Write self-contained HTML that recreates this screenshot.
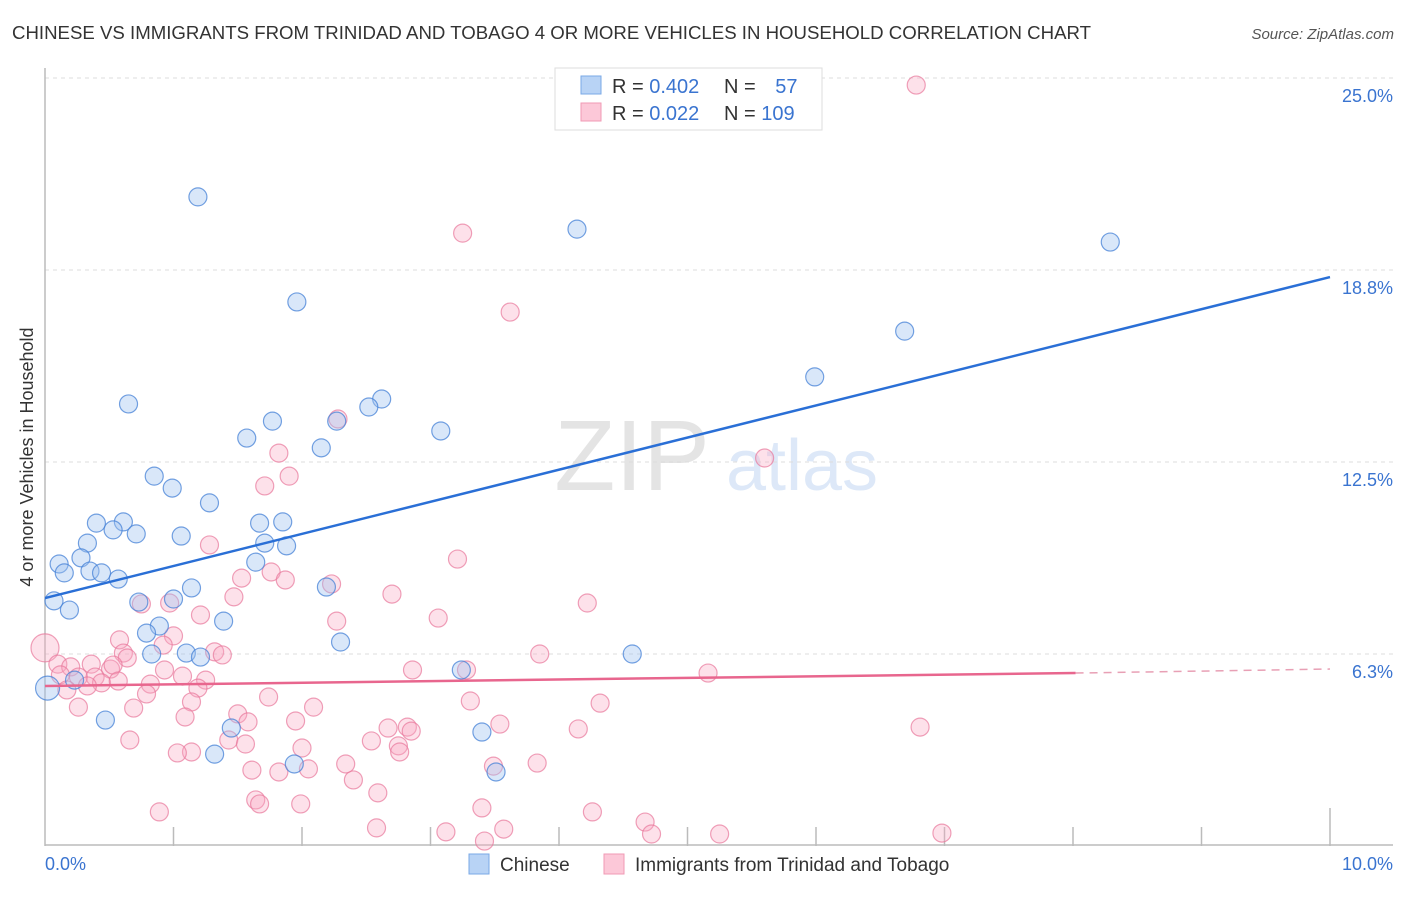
<!DOCTYPE html>
<html><head><meta charset="utf-8"><style>
body{margin:0;background:#fff;font-family:"Liberation Sans",sans-serif;}
svg text{font-family:"Liberation Sans",sans-serif;}
</style></head><body>
<svg id="chart" width="1406" height="892" viewBox="0 0 1406 892" xmlns="http://www.w3.org/2000/svg">
<text x="12" y="39" font-size="18" fill="#333" textLength="1079" lengthAdjust="spacingAndGlyphs">CHINESE VS IMMIGRANTS FROM TRINIDAD AND TOBAGO 4 OR MORE VEHICLES IN HOUSEHOLD CORRELATION CHART</text>
<text x="1394" y="39" font-size="15" fill="#555" text-anchor="end" font-style="italic">Source: ZipAtlas.com</text>
<g opacity="0.22">
<text x="632" y="490" font-size="100" font-family="Liberation Serif" fill="#888" text-anchor="middle">ZIP</text>
<text x="802" y="490" font-size="72" fill="#6a9ce0" text-anchor="middle">atlas</text>
</g>
<g id="grid"></g>
<g id="axes"></g>
<g id="marks"></g>
<g id="lines"></g>
<text transform="translate(33,457) rotate(-90)" font-size="18" fill="#333" text-anchor="middle">4 or more Vehicles in Household</text>
<g>
<rect x="555" y="68" width="267" height="62" fill="#fff" stroke="#ddd"/>
<rect x="581" y="76" width="20" height="18" fill="#b8d3f5" stroke="#7aa8e6"/>
<rect x="581" y="103" width="20" height="18" fill="#fcc8d8" stroke="#f09ab4"/>
<text x="612" y="93" font-size="20" fill="#333">R = <tspan fill="#3a74d0">0.402</tspan></text>
<text x="724" y="93" font-size="20" fill="#333">N = <tspan fill="#3a74d0" dx="14">57</tspan></text>
<text x="612" y="120" font-size="20" fill="#333">R = <tspan fill="#3a74d0">0.022</tspan></text>
<text x="724" y="120" font-size="20" fill="#333">N = <tspan fill="#3a74d0">109</tspan></text>
</g>
<g>
<rect x="469" y="854" width="20" height="20" fill="#b8d3f5" stroke="#7aa8e6"/>
<text x="500" y="871" font-size="19" fill="#333">Chinese</text>
<rect x="604" y="854" width="20" height="20" fill="#fcc8d8" stroke="#f09ab4"/>
<text x="635" y="871" font-size="19" fill="#333">Immigrants from Trinidad and Tobago</text>
</g>
</svg>
<script>
const yTicks=[6.25,12.5,18.75,25];
const yTickLabels=["6.3%","12.5%","18.8%","25.0%"];
const xTicks=[1,2,3,4,5,6,7,8,9,10];
const chineseX=[1.19,4.14,8.29,1.96,6.69,5.99,0.65,2.62,2.52,1.77,2.27,1.57,3.08,2.15,0.85,0.99,1.28,0.40,0.61,1.67,1.85,0.53,0.71,1.06,0.33,1.71,1.88,0.28,0.11,1.64,0.15,0.35,0.44,0.57,1.14,2.19,0.07,0.73,1.00,0.19,1.39,0.89,0.79,2.30,0.83,1.10,1.21,4.57,3.24,0.23,0.02,0.47,1.45,3.40,1.32,1.94,3.51];
const chineseY=[21.13,20.08,19.66,17.71,16.76,15.27,14.39,14.55,14.29,13.83,13.83,13.28,13.51,12.96,12.04,11.65,11.17,10.51,10.55,10.51,10.55,10.29,10.16,10.09,9.86,9.86,9.77,9.38,9.18,9.24,8.89,8.95,8.89,8.69,8.40,8.43,7.98,7.94,8.04,7.68,7.32,7.16,6.93,6.64,6.25,6.28,6.15,6.25,5.73,5.40,5.14,4.10,3.84,3.71,2.99,2.67,2.41];
const trinX=[6.78,3.25,3.62,2.28,5.60,1.82,1.90,1.71,1.28,3.21,1.53,1.76,1.87,2.23,2.70,4.22,0.75,0.97,1.47,1.21,3.06,2.27,1.00,0.58,0.92,0.00,0.61,1.32,1.38,3.85,0.64,0.10,0.20,0.36,0.51,0.53,0.12,0.26,0.39,0.44,0.57,0.93,1.07,1.25,2.86,3.28,5.16,0.17,0.33,0.82,1.19,1.74,0.79,1.14,2.09,4.32,3.31,0.26,0.69,1.09,1.50,1.95,1.58,2.67,2.82,3.54,4.15,6.81,0.66,1.43,2.85,2.75,2.54,1.56,1.14,1.03,2.00,2.34,3.49,3.83,1.61,1.82,2.05,2.40,2.76,2.59,1.64,1.67,1.99,3.40,4.26,0.89,4.67,2.58,3.12,3.57,4.72,5.25,6.98,3.42];
const trinY=[24.77,19.95,17.38,13.90,12.63,12.79,12.04,11.72,9.80,9.34,8.72,8.92,8.66,8.53,8.20,7.91,7.88,7.91,8.11,7.52,7.42,7.32,6.84,6.71,6.54,6.45,6.28,6.32,6.22,6.25,6.12,5.92,5.83,5.92,5.76,5.89,5.57,5.50,5.50,5.31,5.37,5.73,5.53,5.40,5.73,5.73,5.63,5.08,5.21,5.27,5.14,4.85,4.95,4.69,4.52,4.65,4.72,4.52,4.49,4.20,4.30,4.07,4.04,3.84,3.87,3.97,3.81,3.87,3.45,3.45,3.74,3.26,3.42,3.32,3.06,3.03,3.19,2.67,2.60,2.70,2.47,2.41,2.51,2.15,3.06,1.73,1.50,1.37,1.37,1.24,1.11,1.11,0.78,0.59,0.46,0.55,0.39,0.39,0.42,0.16];
const chineseTrend=[8.07,18.52];
const trinTrend=[5.21,5.63,5.76];
const trinSolidEnd=8.02;

const NS="http://www.w3.org/2000/svg";
const X0=45,X1=1330,Y0=846,PX=(X1-X0)/10,PY=192/6.25;
const sx=v=>X0+v*PX, sy=v=>Y0-v*PY;
function mk(tag,attrs,parent){const e=document.createElementNS(NS,tag);for(const k in attrs)e.setAttribute(k,attrs[k]);document.getElementById(parent).appendChild(e);return e;}

yTicks.forEach((t,i)=>{
  const g=mk('line',{x1:X0,x2:1393,y1:sy(t),y2:sy(t),stroke:'#ddd','stroke-dasharray':'4,4'},'grid');
  
  
  const l=mk('text',{x:1393,y:sy(t)+24,'font-size':18,fill:'#3a74d0','text-anchor':'end'},'grid');
  l.textContent=yTickLabels[i];
  
  
});
const ax=mk('line',{x1:X0,x2:X0,y1:68,y2:Y0,stroke:'#bbb','stroke-width':1.5},'axes');


const bx=mk('line',{x1:X0,x2:1393,y1:Y0-1,y2:Y0-1,stroke:'#bbb','stroke-width':1.5},'axes');


xTicks.forEach(t=>{
  const tk=mk('line',{x1:sx(t),x2:sx(t),y1:t===10?808:827,y2:Y0,stroke:'#bbb','stroke-width':1.5},'axes');
  
  
});
const xl0=mk('text',{x:45,y:870,'font-size':18,fill:'#3a74d0'},'axes');xl0.textContent='0.0%';


const xl1=mk('text',{x:1393,y:870,'font-size':18,fill:'#3a74d0','text-anchor':'end'},'axes');xl1.textContent='10.0%';



trinX.forEach((v,i)=>{
  const c=mk('circle',{cx:sx(v),cy:sy(trinY[i]),r:v===0?14:9,fill:'rgba(248,170,195,0.35)',stroke:'rgba(232,120,155,0.7)','stroke-width':1.2},'marks');
  
  
});
chineseX.forEach((v,i)=>{
  const c=mk('circle',{cx:sx(v),cy:sy(chineseY[i]),r:v<0.05?12:9,fill:'rgba(160,196,240,0.4)',stroke:'rgba(70,130,215,0.75)','stroke-width':1.2},'marks');
  
  
});
const bl=mk('line',{x1:sx(0),y1:sy(chineseTrend[0]),x2:sx(10),y2:sy(chineseTrend[1]),stroke:'#2a6fd6','stroke-width':2.5},'lines');


const pl=mk('line',{x1:sx(0),y1:sy(trinTrend[0]),x2:sx(trinSolidEnd),y2:sy(trinTrend[1]),stroke:'#e8668e','stroke-width':2.5},'lines');


const pd=mk('line',{x1:sx(trinSolidEnd),y1:sy(trinTrend[1]),x2:sx(10),y2:sy(trinTrend[2]),stroke:'#e8a0b5','stroke-width':1.5,'stroke-dasharray':'8,6'},'lines');


</script>
</body></html>
